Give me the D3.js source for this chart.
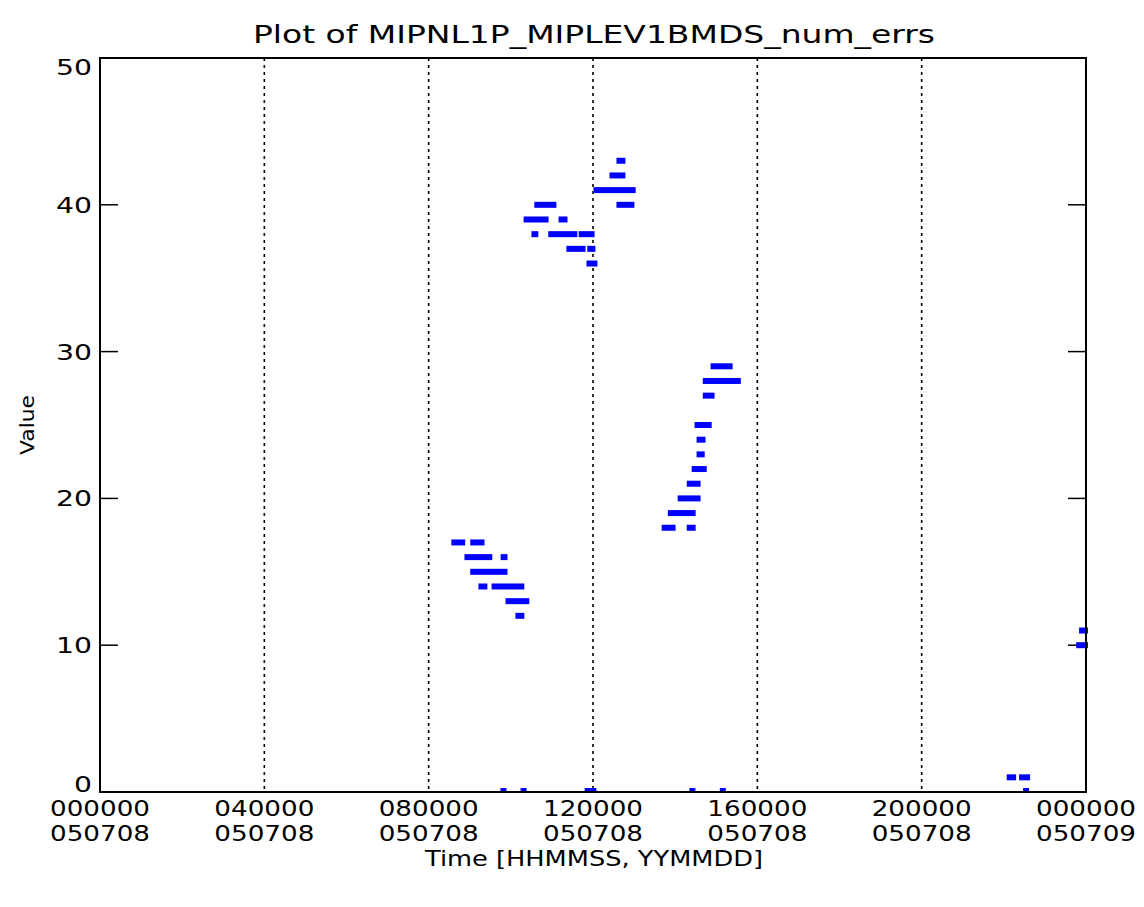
<!DOCTYPE html>
<html><head><meta charset="utf-8">
<script src="https://cdn.jsdelivr.net/npm/d3@7"></script>
<style>body{margin:0;background:#fff}svg{display:block}text{font-family:"DejaVu Sans",sans-serif;fill:#000}</style>
</head><body>
<svg id="c" width="1144" height="907"></svg>
<script>
// Time in hours since 000000 050708; value = num_errs
const runStart = [8.60,9.06, 8.92,9.80, 9.06, 9.26,9.58, 9.92, 10.16,
  10.62, 10.36,11.21, 10.55,10.96,11.70, 11.40,11.91, 11.89,
  12.62, 12.45, 12.06, 12.62,
  14.91, 14.72, 14.72, 14.52, 14.57, 14.57, 14.45, 14.33, 14.11, 13.87, 13.72,14.33,
  22.12,22.42, 23.88, 23.81];
const runEnd = [8.84,9.31, 9.50,9.87, 9.87, 9.38,10.28, 10.40, 10.28,
  11.06, 10.87,11.33, 10.62,11.57,11.99, 11.77,12.01, 12.06,
  12.74, 12.74, 12.99, 12.96,
  15.35, 15.55, 14.91, 14.84, 14.69, 14.67, 14.72, 14.57, 14.57, 14.45, 13.96,14.45,
  22.25,22.59, 24.0, 24.0];
const runValue = [17,17, 16,16, 15, 14,14, 13, 12,
  40, 39,39, 38,38,38, 37,37, 36,
  43, 42, 41, 40,
  29, 28, 27, 25, 24, 23, 22, 21, 20, 19, 18,18,
  1,1, 11, 10];
const zeroTimes = [9.82, 10.31, 11.87, 12.01, 14.42, 15.16, 22.54];
const yTicks = [0,10,20,30,40,50];
const xTicks = [0,4,8,12,16,20,24];
const xTickLine1 = ["000000","040000","080000","120000","160000","200000","000000"];
const xTickLine2 = ["050708","050708","050708","050708","050708","050708","050709"];

const svg = d3.select("#c");
const L=100, R=1086, T=58, B=792;
const x = d3.scaleLinear().domain([0,24]).range([L,R]);
const y = d3.scaleLinear().domain([0,50]).range([B,T]);

// dotted verticals
svg.selectAll("line.grid").data(xTicks.slice(1,-1)).enter().append("line")
  .attr("x1",d=>x(d)).attr("x2",d=>x(d)).attr("y1",T).attr("y2",B)
  .attr("stroke","#000").attr("stroke-width",1.6).attr("stroke-dasharray","3,4");

// y ticks inward both sides
const tl=18;
svg.selectAll("line.yl").data(yTicks).enter().append("line")
  .attr("x1",L).attr("x2",L+tl).attr("y1",d=>y(d)).attr("y2",d=>y(d)).attr("stroke","#000").attr("stroke-width",1.5);
svg.selectAll("line.yr").data(yTicks).enter().append("line")
  .attr("x1",R-tl).attr("x2",R).attr("y1",d=>y(d)).attr("y2",d=>y(d)).attr("stroke","#000").attr("stroke-width",1.5);

// data runs
const runs = runStart.map((s,i)=>({s, e:runEnd[i], v:runValue[i]}));
svg.selectAll("rect.run").data(runs).enter().append("rect")
  .attr("x",d=>x(d.s)-2).attr("width",d=>Math.max(5,x(d.e)-x(d.s)+4))
  .attr("y",d=>y(d.v)-3).attr("height",6).attr("fill","#0000ff");
svg.selectAll("rect.z").data(zeroTimes).enter().append("rect")
  .attr("x",d=>x(d)-3).attr("width",6).attr("y",y(0)-4).attr("height",4).attr("fill","#0000ff");

// frame
svg.append("rect").attr("x",L).attr("y",T).attr("width",R-L).attr("height",B-T)
  .attr("fill","none").attr("stroke","#000").attr("stroke-width",2);

// y labels (end labels pulled inside the axis span)
svg.selectAll("text.yt").data(yTicks).enter().append("text")
  .attr("x",92).attr("y",d=>d===0 ? y(d) : d===50 ? y(d)+17 : y(d)+8).attr("text-anchor","end")
  .attr("font-size",22).attr("textLength",d=>String(d).length*18).attr("lengthAdjust","spacingAndGlyphs").text(d=>d);

// x labels
svg.selectAll("text.x1").data(xTicks).enter().append("text")
  .attr("x",d=>x(d)).attr("y",816).attr("text-anchor","middle")
  .attr("font-size",22).attr("textLength",100).attr("lengthAdjust","spacingAndGlyphs").text((d,i)=>xTickLine1[i]);
svg.selectAll("text.x2").data(xTicks).enter().append("text")
  .attr("x",d=>x(d)).attr("y",841).attr("text-anchor","middle")
  .attr("font-size",22).attr("textLength",100).attr("lengthAdjust","spacingAndGlyphs").text((d,i)=>xTickLine2[i]);

// axis titles
svg.append("text").attr("x",594).attr("y",866).attr("text-anchor","middle")
  .attr("font-size",21).attr("textLength",338).attr("lengthAdjust","spacingAndGlyphs").text("Time [HHMMSS, YYMMDD]");
svg.append("text").attr("transform","translate(34,425) rotate(-90)").attr("text-anchor","middle")
  .attr("font-size",19).attr("textLength",60).attr("lengthAdjust","spacingAndGlyphs").text("Value");
svg.append("text").attr("x",594).attr("y",43).attr("text-anchor","middle")
  .attr("font-size",25).attr("textLength",682).attr("lengthAdjust","spacingAndGlyphs").text("Plot of MIPNL1P_MIPLEV1BMDS_num_errs");
</script>
</body></html>
